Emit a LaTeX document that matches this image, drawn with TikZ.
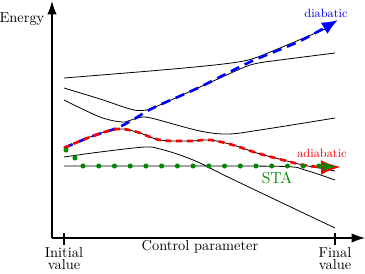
\documentclass[tikz,border=0pt]{standalone}
\usetikzlibrary{arrows.meta}
\definecolor{stagreen}{RGB}{0,135,0}
\begin{document}
\begin{tikzpicture}[x=0.75pt,y=-0.75pt,
  font=\fontsize{10.8}{12}\selectfont,
  axis/.style={line width=0.9pt,-{Latex[length=10pt,width=7pt]}},
  level/.style={line width=0.6pt},
  diab/.style={blue,line width=2pt,dash pattern=on 7pt off 4.5pt},
  adiab/.style={red,line width=2pt,dash pattern=on 4.5pt off 3.5pt},
  lbl/.style={inner sep=0pt},
  tick/.style={inner sep=0pt,align=center,font=\fontsize{10.8}{9.6}\selectfont}]
\useasboundingbox (0,0) rectangle (365,273);
% axes
\coordinate (O) at (52,238);
\coordinate (ytip) at (52,1);
\coordinate (xtip) at (365,238);
\draw[axis] (O) -- (ytip);
\draw[axis] (O) -- (xtip);
\coordinate (t1a) at (64,233); \coordinate (t1b) at (64,245);
\coordinate (t2a) at (335,233); \coordinate (t2b) at (335,245);
\draw[line width=0.9pt] (t1a) -- (t1b);
\draw[line width=0.9pt] (t2a) -- (t2b);
\node[lbl] (energy) at (22,19) {Energy};
\node[tick] (init) at (64,258.5) {Initial\\value};
\node[tick] (final) at (335,258.5) {Final\\value};
\node[lbl] (cp) at (200,247) {Control parameter};
% energy levels
\draw[level] plot[smooth,tension=0.55] coordinates {(64,78) (150,71) (205,66) (238,62) (255,58) (280,48) (330,27)};
\draw[level] plot[smooth,tension=0.55] coordinates {(64,88) (100,99) (130,109) (142,110.5) (155,107) (200,87) (240,69) (256,63.5) (280,60) (335,53)};
\draw[level] plot[smooth,tension=0.55] coordinates {(64,100) (100,117) (122,122) (131,120) (143,117) (155,119) (200,131) (228,134) (260,130) (335,118)};
\draw[level] plot[smooth,tension=0.55] coordinates {(64,148) (90,137) (117,129) (137,132) (160,140) (190,141) (210,140) (233,145) (257,153) (283,160) (303,165) (320,168) (335,171)};
\draw[level] plot[smooth,tension=0.55] coordinates {(64,157) (100,152) (145,147) (160,149) (180,155) (200,163) (230,178) (335,228)};
\draw[level] plot[smooth,tension=0.55] coordinates {(64,166) (200,166) (285,166.5) (305,170) (335,180)};
% diabatic path
\draw[diab,-{Latex[length=12pt,width=10pt]}] plot[smooth,tension=0.55] coordinates {(64,148) (90,137) (117,128) (135,118.5) (153,108) (200,87) (250,62) (300,41) (338,20)};
\node[lbl,blue] (dlabel) at (326,13) {\small diabatic};
% adiabatic path
\draw[adiab,-{Latex[length=15pt,width=11pt]}] plot[smooth,tension=0.55] coordinates {(64,148) (90,137) (117,129) (137,132) (160,140) (190,141) (210,140) (233,145) (257,153) (283,160) (303,165) (320,167) (341,167)};
\node[lbl,red] (alabel) at (322,153) {\small adiabatic};
% STA path
\foreach \i in {0,...,15} {
  \fill[stagreen] (83+15.73*\i,166) circle[radius=1.9pt];
}
\fill[stagreen] (66,150) circle[radius=1.9pt];
\fill[stagreen] (75,158) circle[radius=1.9pt];
\coordinate (gs) at (322,166.5);
\coordinate (ge) at (336,166.5);
\draw[stagreen,line width=0.8pt,-{Latex[length=10pt,width=7pt]}] (gs) -- (ge);
\node[lbl,stagreen] (stalabel) at (277,178) {\large STA};
\end{tikzpicture}
\end{document}
